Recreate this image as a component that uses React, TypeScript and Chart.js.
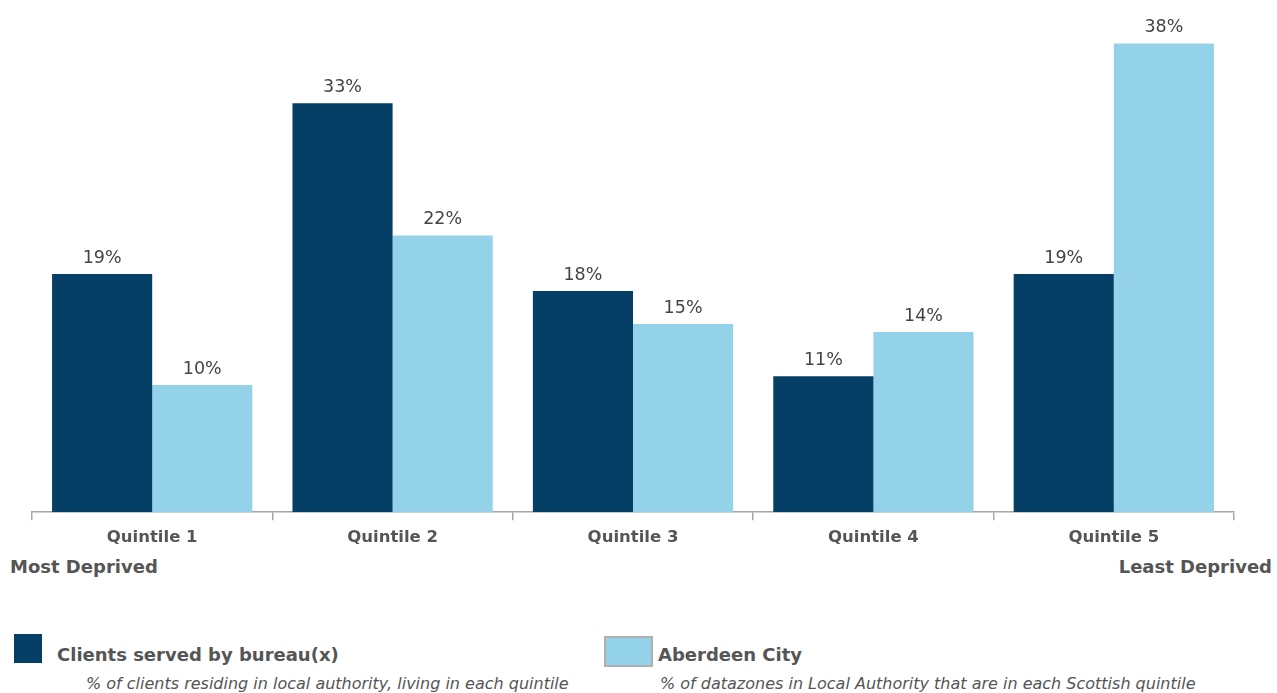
import React, { useEffect, useRef } from "react";
import { Chart, registerables } from "chart.js";

Chart.register(...registerables);

const categories = ["Quintile 1", "Quintile 2", "Quintile 3", "Quintile 4", "Quintile 5"];
const clientsValues = [19.1, 32.8, 17.75, 10.9, 19.1];
const aberdeenValues = [10.2, 22.2, 15.1, 14.45, 37.6];
const seriesNames = ["Clients served by bureau(x)", "Aberdeen City"];
const seriesNotes = [
  "% of clients residing in local authority, living in each quintile",
  "% of datazones in Local Authority that are in each Scottish quintile",
];
const endLabels = ["Most Deprived", "Least Deprived"];

const DARK = "#063F66";
const LIGHT = "#93D2E8";
const TEXT = "#555555";
const FONT = "'DejaVu Sans', Verdana, sans-serif";

const valueLabels = {
  id: "valueLabels",
  afterDatasetsDraw(chart: any) {
    const ctx = chart.ctx;
    ctx.save();
    ctx.font = `17.5px ${FONT}`;
    ctx.fillStyle = "#444444";
    ctx.textAlign = "center";
    ctx.textBaseline = "bottom";
    chart.data.datasets.forEach((ds: any, i: number) => {
      const meta = chart.getDatasetMeta(i);
      meta.data.forEach((bar: any, j: number) => {
        const v = Math.round(ds.data[j]);
        ctx.fillText(`${v}%`, bar.x, bar.y - 7);
      });
    });
    ctx.restore();
  },
};

export default function App() {
  const ref = useRef<HTMLCanvasElement | null>(null);
  useEffect(() => {
    if (!ref.current) return;
    const chart = new Chart(ref.current, {
      type: "bar",
      data: {
        labels: categories,
        datasets: [
          { label: seriesNames[0], data: clientsValues, backgroundColor: DARK },
          { label: seriesNames[1], data: aberdeenValues, backgroundColor: LIGHT },
        ],
      },
      options: {
        animation: false,
        responsive: true,
        maintainAspectRatio: false,
        layout: { padding: { left: 32, right: 43, top: 11, bottom: 0 } },
        datasets: { bar: { categoryPercentage: 0.833, barPercentage: 1.0 } },
        plugins: { legend: { display: false }, tooltip: { enabled: false } },
        scales: {
          x: {
            grid: {
              offset: true,
              drawOnChartArea: false,
              drawTicks: true,
              tickLength: 8,
              color: "#a6a6a6",
              lineWidth: 1.5,
            },
            border: { color: "#a6a6a6", width: 1.5 },
            ticks: {
              color: TEXT,
              padding: 8,
              font: { family: FONT, size: 16.5, weight: "bold" },
            },
          },
          y: { display: false, min: 0, max: 40.2 },
        },
      },
      plugins: [valueLabels],
    });
    return () => chart.destroy();
  }, []);

  const legendText: React.CSSProperties = {
    position: "absolute",
    fontFamily: FONT,
    fontWeight: "bold",
    fontSize: 18,
    color: TEXT,
    whiteSpace: "nowrap",
  };
  const noteText: React.CSSProperties = {
    position: "absolute",
    fontFamily: FONT,
    fontStyle: "italic",
    fontSize: 16,
    color: TEXT,
    whiteSpace: "nowrap",
  };

  return (
    <div style={{ position: "fixed", left: 0, top: 0, width: 1277, height: 693, overflow: "hidden", background: "#fff" }}>
      <div style={{ position: "absolute", left: 0, top: 0, width: 1277, height: 556 }}>
        <canvas ref={ref} />
      </div>
      <div style={{ ...legendText, left: 10, top: 556 }}>{endLabels[0]}</div>
      <div style={{ ...legendText, right: 5, top: 556 }}>{endLabels[1]}</div>

      <div style={{ position: "absolute", left: 14, top: 634, width: 28, height: 29, background: DARK }} />
      <div style={{ ...legendText, left: 57, top: 644 }}>{seriesNames[0]}</div>
      <div style={{ ...noteText, left: 86, top: 674 }}>{seriesNotes[0]}</div>

      <div style={{ position: "absolute", left: 604, top: 636, width: 45, height: 27, background: LIGHT, border: "2px solid #b0b0b0" }} />
      <div style={{ ...legendText, left: 658, top: 644 }}>{seriesNames[1]}</div>
      <div style={{ ...noteText, left: 660, top: 674 }}>{seriesNotes[1]}</div>
    </div>
  );
}
